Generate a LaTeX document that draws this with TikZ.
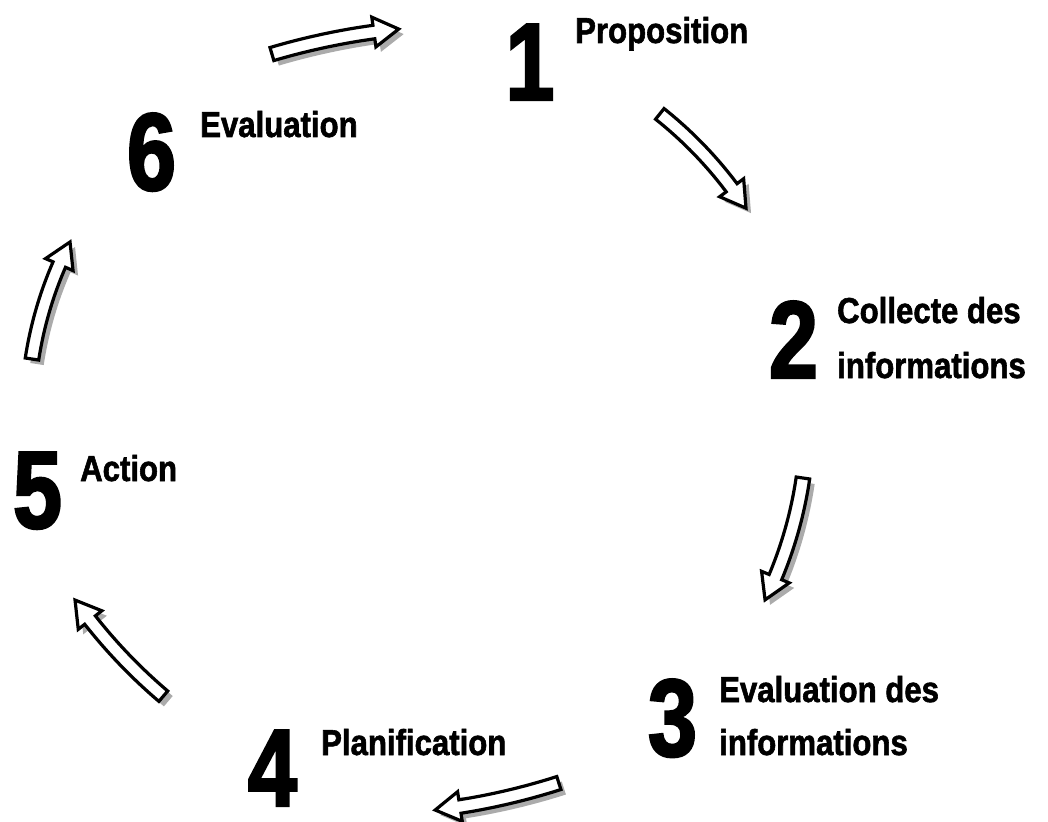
\documentclass[tikz,border=0pt]{standalone}
\usepackage{fontspec}
\setmainfont[FakeStretch=0.86]{Liberation Sans}
\newfontfamily\labfont[FakeStretch=0.865, BoldFeatures={FakeBold=1.6}]{Liberation Sans}
\newfontfamily\numfont[FakeStretch=0.80, BoldFeatures={FakeBold=2.2}]{Liberation Sans}
\tikzset{
  shadowfill/.style={fill=black!33, draw=none},
  arrowbody/.style={draw=black, fill=white, line width=3.2, line join=miter},
  num/.style={font=\numfont\bfseries\fontsize{110}{110}\selectfont, inner sep=0, anchor=base},
  lab/.style={font=\labfont\bfseries\fontsize{36}{44}\selectfont, inner sep=0, anchor=base west},
}
\newcommand\blockarr[5]{% cx, cy, R, a1 (tail), a2 (tip)
  \pgfmathsetmacro\ah{#5-sign(#5-#4)*25/#3*57.2958}
  \foreach \sh/\st in {5/shadowfill,0/arrowbody}{
    \path[\st, shift={(\sh,\sh)}]
      plot[domain=#4:\ah, samples=30] ({#1+(#3+6.8)*cos(\x)},{#2+(#3+6.8)*sin(\x)})
      -- ({#1+(#3+15)*cos(\ah)},{#2+(#3+15)*sin(\ah)})
      -- ({#1+#3*cos(#5)},{#2+#3*sin(#5)})
      -- ({#1+(#3-15)*cos(\ah)},{#2+(#3-15)*sin(\ah)})
      -- plot[domain=\ah:#4, samples=30] ({#1+(#3-6.8)*cos(\x)},{#2+(#3-6.8)*sin(\x)})
      -- cycle;
  }
}
\begin{document}
\begin{tikzpicture}[x=1pt, y=-1pt]
\useasboundingbox (0,0) rectangle (1048,821);
% arrows
\blockarr{468.7}{718.4}{692.9}{-106.5}{-95.8}
\blockarr{407}{431.7}{406.1}{-51.5}{-33.4}
\blockarr{396.3}{418.4}{411}{8.34}{26.2}
\blockarr{354.4}{142.4}{672.5}{72.3}{83.1}
\blockarr{507.9}{291.3}{531.7}{130.4}{144.5}
\blockarr{408.3}{416.6}{380.7}{188.7}{207.3}
% numbers
\node[num] (n1) at (530,100) {1};
\node[num] (n2) at (793.5,378) {2};
\node[num] (n3) at (672.5,756) {3};
\node[num] (n4) at (272.5,806) {4};
\node[num] (n5) at (37.5,528) {5};
\node[num] (n6) at (151.5,190) {6};
% labels
\node[lab] (l1) at (575,43) {Proposition};
\node[lab] (l2a) at (837,323) {Collecte des};
\node[lab] (l2b) at (837,378) {informations};
\node[lab] (l3a) at (719,702) {Evaluation des};
\node[lab] (l3b) at (719,755) {informations};
\node[lab] (l4) at (321,755) {Planification};
\node[lab] (l5) at (80,481) {Action};
\node[lab] (l6) at (200,137) {Evaluation};
\end{tikzpicture}
\end{document}
